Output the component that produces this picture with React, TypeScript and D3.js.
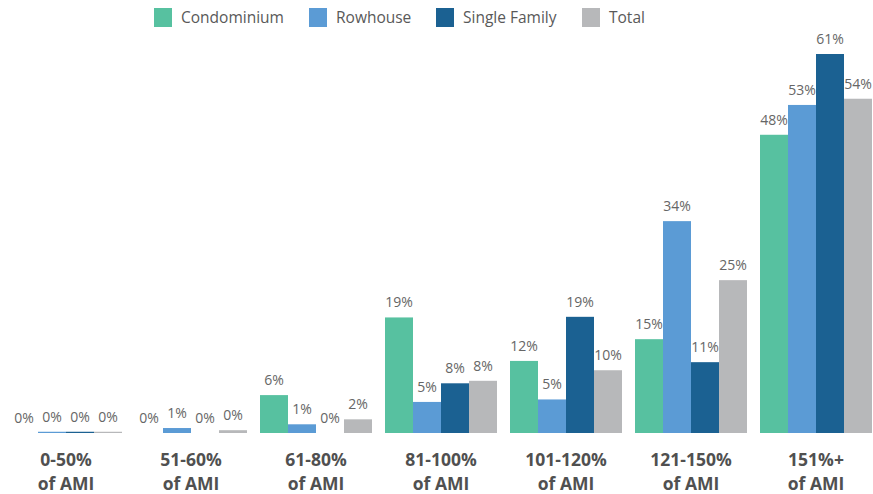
import React from "react";
import * as d3 from "d3";

const categories = ["0-50%|of AMI", "51-60%|of AMI", "61-80%|of AMI", "81-100%|of AMI", "101-120%|of AMI", "121-150%|of AMI", "151%+|of AMI"];
const seriesNames = ["Condominium", "Rowhouse", "Single Family", "Total"];
const condominium = [0, 0, 6.1, 18.6, 11.6, 15.1, 48.0];
const rowhouse = [0.2, 0.8, 1.4, 5.0, 5.4, 34.1, 52.8];
const singleFamily = [0.2, 0, 0, 8.0, 18.7, 11.4, 61.0];
const total = [0.2, 0.45, 2.2, 8.4, 10.1, 24.6, 53.8];
const colors = ["#57c1a0", "#5b9bd5", "#1b6192", "#b7b8ba"];

const W = 873;
const H = 494;

export default function App() {
  const series = [condominium, rowhouse, singleFamily, total];
  const x0 = d3.scaleBand<number>().domain(d3.range(categories.length)).range([10, 872]).paddingInner(0.104).paddingOuter(0);
  const x1 = d3.scaleBand<number>().domain(d3.range(seriesNames.length)).range([0, x0.bandwidth()]).padding(0);
  const y = d3.scaleLinear().domain([0, 61]).range([433, 54]);
  const fmt = (v: number) => `${Math.round(v)}%`;
  const legendX = [154, 309, 436, 582];

  return (
    <svg width={W} height={H} style={{ position: "absolute", left: 0, top: 0, fontFamily: "'Open Sans', sans-serif" }}>
      {seriesNames.map((s, i) => (
        <g key={s}>
          <rect x={legendX[i]} y={8} width={18} height={19} fill={colors[i]} />
          <text x={legendX[i] + 27} y={23} fontSize={15.5} fill="#595959">{s}</text>
        </g>
      ))}
      {categories.map((c, ci) => (
        <g key={c} transform={`translate(${x0(ci)},0)`}>
          {series.map((arr, si) => {
            const v = arr[ci];
            const bx = x1(si)!;
            return (
              <g key={si}>
                {v > 0 && <rect x={bx} y={y(v)} width={x1.bandwidth()} height={y(0) - y(v)} fill={colors[si]} />}
                <text x={bx + x1.bandwidth() / 2} y={y(v) - 10} textAnchor="middle" fontSize={14} fill="#666">{fmt(v)}</text>
              </g>
            );
          })}
          {c.split("|").map((line, li) => (
            <text key={li} x={x0.bandwidth() / 2} y={466 + li * 24} textAnchor="middle" fontSize={17.5} fontWeight={700} fill="#505050">{line}</text>
          ))}
        </g>
      ))}
    </svg>
  );
}
